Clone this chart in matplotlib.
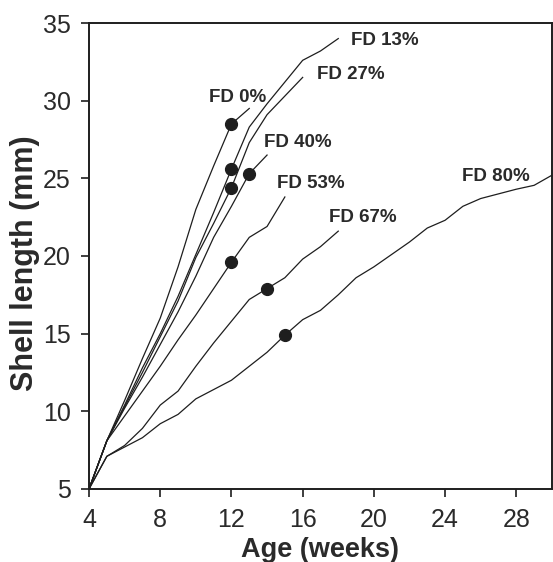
import matplotlib
matplotlib.use("Agg")
import matplotlib.pyplot as plt

plt.rcParams['font.family'] = ['Liberation Sans', 'DejaVu Sans']

# shell length (mm) by age (weeks) for each food deprivation level
labels = ['FD 0%', 'FD 13%', 'FD 27%', 'FD 40%', 'FD 53%', 'FD 67%', 'FD 80%']

fd0_weeks = [4, 5, 6, 7, 8, 9, 10, 11, 12, 13]
fd0_len = [5.0, 8.1, 10.7, 13.4, 16.0, 19.3, 23.0, 25.8, 28.5, 29.5]

fd13_weeks = [4, 5, 6, 7, 8, 9, 10, 11, 12, 13, 14, 15, 16, 17, 18]
fd13_len = [5.0, 8.1, 10.4, 12.8, 15.0, 17.4, 20.1, 22.8, 25.6, 28.3, 29.8, 31.2, 32.6, 33.2, 34.0]

fd27_weeks = [4, 5, 6, 7, 8, 9, 10, 11, 12, 13, 14, 15, 16]
fd27_len = [5.0, 8.1, 10.3, 12.5, 14.8, 17.1, 19.9, 22.1, 24.4, 27.3, 29.1, 30.3, 31.5]

fd40_weeks = [4, 5, 6, 7, 8, 9, 10, 11, 12, 13, 14]
fd40_len = [5.0, 8.1, 10.2, 12.2, 14.3, 16.4, 18.7, 21.2, 23.2, 25.3, 26.5]

fd53_weeks = [4, 5, 6, 7, 8, 9, 10, 11, 12, 13, 14, 15]
fd53_len = [5.0, 8.1, 9.7, 11.3, 12.9, 14.6, 16.2, 17.9, 19.6, 21.2, 21.9, 23.8]

fd67_weeks = [4, 5, 6, 7, 8, 9, 10, 11, 12, 13, 14, 15, 16, 17, 18]
fd67_len = [5.0, 7.1, 7.8, 8.9, 10.4, 11.3, 12.9, 14.4, 15.8, 17.2, 17.9, 18.6, 19.8, 20.6, 21.6]

fd80_weeks = list(range(4, 31))
fd80_len = [5.0, 7.1, 7.7, 8.3, 9.2, 9.8, 10.8, 11.4, 12.0, 12.9, 13.8, 14.9, 15.9, 16.5,
            17.5, 18.6, 19.3, 20.1, 20.9, 21.8, 22.3, 23.2, 23.7, 24.0, 24.3, 24.55, 25.2]

# filled circles on each curve
dot_weeks = [12, 12, 12, 13, 12, 14, 15]
dot_len = [28.5, 25.6, 24.4, 25.3, 19.6, 17.9, 14.9]

# where the curve labels sit
label_x = [10.75, 18.7, 16.8, 13.85, 14.55, 17.5, 24.95]
label_y = [30.2, 33.9, 31.7, 27.3, 24.65, 22.45, 25.15]

series = [(fd0_weeks, fd0_len), (fd13_weeks, fd13_len), (fd27_weeks, fd27_len),
          (fd40_weeks, fd40_len), (fd53_weeks, fd53_len), (fd67_weeks, fd67_len),
          (fd80_weeks, fd80_len)]

ink = '#1e1e1e'
txt = '#2a2a2a'

fig = plt.figure(figsize=(5.53, 5.62), dpi=100)
ax = fig.add_axes([0.161, 0.13, 0.837, 0.829])

for (w, l) in series:
    ax.plot(w, l, color=ink, lw=0.9)

ax.plot(dot_weeks, dot_len, 'o', color=ink, ms=8.5, ls='none')

for lab, x, y in zip(labels, label_x, label_y):
    ax.text(x, y, lab, fontsize=13.5, fontweight='bold', color=txt,
            ha='left', va='center')

ax.set_xlim(4, 30)
ax.set_ylim(5, 35)
ax.set_xticks(range(4, 29, 4))
ax.set_yticks(range(5, 36, 5))
ax.tick_params(direction='out', length=6, width=1.2, colors=ink, labelsize=18,
               top=False, right=False, labelcolor=txt)
ax.tick_params(axis='x', pad=8)
ax.tick_params(axis='y', pad=7)
for s in ax.spines.values():
    s.set_linewidth(1.4)
    s.set_color(ink)

ax.set_xlabel('Age (weeks)', fontsize=19.5, fontweight='bold', color=txt)
ax.set_ylabel('Shell length (mm)', fontsize=22, fontweight='bold', color=txt)
ax.xaxis.set_label_coords(0.5, -0.103)
ax.yaxis.set_label_coords(-0.106, 0.485)

fig.savefig('out.png', dpi=100)
